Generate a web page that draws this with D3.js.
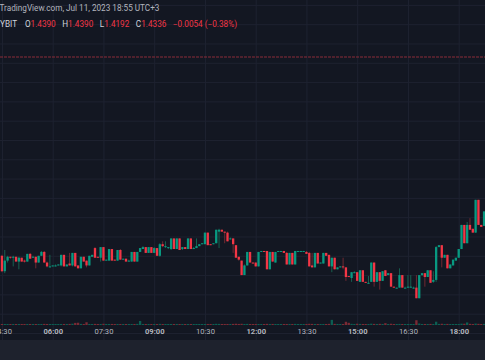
<!DOCTYPE html>
<html><head><meta charset="utf-8">
<script src="https://cdn.jsdelivr.net/npm/d3@7"></script>
<style>html,body{margin:0;padding:0;background:#131722;overflow:hidden}</style>
</head><body>
<svg id="c" width="485" height="360"></svg>
<script>
// ---------- DATA ----------
const opens = [
1.4000,1.3984,1.3995,1.3999,1.3998,1.3999,1.3994,1.3998,1.3995,1.3994,
1.4002,1.3998,1.3999,1.3993,1.4000,1.4004,1.3993,1.3988,1.3989,1.3990,
1.3990,1.3990,1.4001,1.3989,1.3992,1.3990,1.4003,1.3990,1.3987,1.3999,
1.3995,1.3990,1.3999,1.4008,1.3999,1.3998,1.4009,1.3995,1.3995,1.4007,
1.3996,1.3995,1.4006,1.3996,1.3997,1.3995,1.3994,1.4004,1.3994,1.4004,
1.4007,1.4009,1.4003,1.4009,1.4003,1.4008,1.4000,1.4012,1.4009,1.4008,
1.4007,1.4018,1.4007,1.4018,1.4007,1.4009,1.4007,1.4018,1.4007,1.4008,
1.4010,1.4012,1.4012,1.4024,1.4012,1.4012,1.4013,1.4025,1.4027,1.4025,
1.4024,1.4017,1.4018,1.4011,1.3999,1.3995,1.3980,1.3990,1.4004,1.3993,
1.3993,1.3989,1.4004,1.4005,1.4005,1.3986,1.4004,1.3993,1.4004,1.4005,
1.4005,1.4003,1.3991,1.4003,1.3991,1.4005,1.4004,1.4005,1.4004,1.4003,
1.3990,1.3988,1.4003,1.3992,1.3992,1.4003,1.4001,1.3989,1.3998,1.3986,
1.3988,1.3989,1.3988,1.3979,1.3977,1.3983,1.3983,1.3973,1.3985,1.3973,
1.3972,1.3973,1.3993,1.3973,1.3983,1.3974,1.3985,1.3980,1.3982,1.3968,
1.3967,1.3967,1.3980,1.3967,1.3967,1.3967,1.3967,1.3967,1.3956,1.3980,
1.3982,1.3978,1.3985,1.3973,1.3975,1.4009,1.4011,1.3998,1.4001,1.3987,
1.3990,1.3995,1.3998,1.4007,1.4032,1.4013,1.4032,1.4028,1.4024,1.4058,
1.4032,1.4031];
const closes = [
1.3984,1.3995,1.3999,1.3998,1.3999,1.3994,1.3998,1.3994,1.3994,1.4002,
1.3997,1.3999,1.3993,1.4000,1.4004,1.3993,1.3989,1.3989,1.3990,1.3990,
1.3991,1.4001,1.3989,1.3991,1.3990,1.4003,1.3989,1.3987,1.3999,1.3994,
1.3990,1.4000,1.4001,1.3998,1.3998,1.4009,1.3995,1.3996,1.4007,1.3995,
1.3995,1.4006,1.3996,1.3997,1.3994,1.3995,1.4004,1.3994,1.4004,1.4008,
1.4009,1.4003,1.4009,1.4003,1.4008,1.4000,1.4012,1.4010,1.4010,1.4009,
1.4018,1.4007,1.4018,1.4006,1.4009,1.4007,1.4018,1.4007,1.4008,1.4010,
1.4012,1.4013,1.4024,1.4011,1.4011,1.4013,1.4027,1.4027,1.4025,1.4024,
1.4015,1.4018,1.4012,1.3998,1.3996,1.3980,1.3990,1.4004,1.3993,1.3992,
1.3989,1.4004,1.4005,1.4004,1.3986,1.4004,1.3994,1.4004,1.4005,1.4005,
1.4003,1.3991,1.4003,1.3991,1.4005,1.4005,1.4005,1.4005,1.4002,1.3989,
1.3988,1.4003,1.3992,1.3993,1.4003,1.4000,1.3989,1.3998,1.3986,1.3988,
1.3989,1.3988,1.3978,1.3978,1.3983,1.3983,1.3974,1.3985,1.3973,1.3972,
1.3972,1.3993,1.3973,1.3983,1.3974,1.3984,1.3979,1.3982,1.3968,1.3967,
1.3967,1.3980,1.3967,1.3967,1.3968,1.3968,1.3967,1.3956,1.3980,1.3982,
1.3978,1.3985,1.3972,1.3975,1.4009,1.4011,1.3998,1.4001,1.3987,1.3991,
1.3996,1.3998,1.4007,1.4032,1.4013,1.4032,1.4027,1.4024,1.4058,1.4032,
1.4030,1.4046];
const highs = [
1.4001,1.4006,1.4000,1.3999,1.4000,1.3999,1.3999,1.3998,1.3996,1.4002,
1.4003,1.4000,1.3999,1.4000,1.4005,1.4005,1.3994,1.4001,1.3990,1.3991,
1.3991,1.4001,1.4001,1.3991,1.4003,1.4003,1.4003,1.3990,1.3999,1.3999,
1.3995,1.4000,1.4001,1.4009,1.3999,1.4009,1.4009,1.3996,1.4007,1.4007,
1.3996,1.4006,1.4007,1.3997,1.3997,1.3996,1.4004,1.4004,1.4004,1.4008,
1.4010,1.4009,1.4009,1.4009,1.4009,1.4008,1.4013,1.4015,1.4015,1.4009,
1.4018,1.4018,1.4018,1.4018,1.4009,1.4009,1.4018,1.4018,1.4009,1.4018,
1.4012,1.4013,1.4024,1.4024,1.4012,1.4013,1.4027,1.4028,1.4027,1.4025,
1.4025,1.4019,1.4018,1.4011,1.3999,1.3995,1.3991,1.4004,1.4004,1.3993,
1.3993,1.4004,1.4005,1.4005,1.4005,1.4004,1.4004,1.4004,1.4005,1.4005,
1.4005,1.4004,1.4003,1.4003,1.4005,1.4005,1.4005,1.4005,1.4005,1.4004,
1.4003,1.4003,1.4003,1.3993,1.4003,1.4003,1.4001,1.3998,1.3998,1.3988,
1.3989,1.3998,1.3988,1.3979,1.3983,1.3984,1.3983,1.3985,1.3985,1.3973,
1.3979,1.3993,1.3993,1.3983,1.3983,1.3984,1.3985,1.3982,1.3982,1.3968,
1.3967,1.3987,1.3980,1.3968,1.3980,1.3980,1.3968,1.3980,1.3980,1.3982,
1.3982,1.3985,1.3985,1.3984,1.4010,1.4011,1.4011,1.4001,1.4001,1.3991,
1.3996,1.3998,1.4007,1.4032,1.4032,1.4035,1.4039,1.4028,1.4058,1.4058,
1.4032,1.4046];
const lows = [
1.3983,1.3982,1.3993,1.3997,1.3989,1.3994,1.3986,1.3994,1.3993,1.3994,
1.3997,1.3998,1.3987,1.3993,1.4000,1.3993,1.3988,1.3988,1.3989,1.3989,
1.3990,1.3989,1.3989,1.3989,1.3990,1.3989,1.3989,1.3987,1.3987,1.3994,
1.3988,1.3990,1.3999,1.3998,1.3998,1.3994,1.3995,1.3995,1.3995,1.3995,
1.3995,1.3995,1.3996,1.3996,1.3994,1.3994,1.3994,1.3994,1.3994,1.4004,
1.4007,1.4003,1.4003,1.4003,1.4003,1.4000,1.3999,1.4009,1.4008,1.4007,
1.4006,1.4007,1.4007,1.4006,1.4006,1.4007,1.4007,1.4007,1.4007,1.4008,
1.4010,1.4012,1.4012,1.4011,1.4011,1.4012,1.4013,1.4008,1.4025,1.4013,
1.4015,1.4017,1.4003,1.3998,1.3995,1.3980,1.3980,1.3990,1.3993,1.3992,
1.3989,1.3989,1.4004,1.4004,1.3986,1.3986,1.3994,1.3993,1.4004,1.4004,
1.4003,1.3991,1.3991,1.3991,1.3991,1.4004,1.4004,1.4004,1.4002,1.3989,
1.3988,1.3988,1.3992,1.3992,1.3992,1.4000,1.3989,1.3983,1.3986,1.3986,
1.3988,1.3986,1.3974,1.3978,1.3973,1.3982,1.3974,1.3973,1.3973,1.3972,
1.3971,1.3973,1.3968,1.3973,1.3965,1.3974,1.3979,1.3980,1.3968,1.3967,
1.3966,1.3967,1.3967,1.3967,1.3967,1.3967,1.3966,1.3956,1.3956,1.3979,
1.3968,1.3978,1.3972,1.3972,1.3973,1.4009,1.3988,1.3998,1.3987,1.3987,
1.3990,1.3995,1.3998,1.4007,1.4013,1.4013,1.4027,1.4024,1.4024,1.4032,
1.4030,1.4031];
const volumes = [
22,25,18,20,24,21,26,19,23,20, 28,22,25,24,27,30,21,19,18,20,
24,26,28,22,30,35,58,62,30,26, 75,28,22,30,25,27,33,22,24,29,
21,26,24,20,22,19,27,25,30,110, 28,24,26,22,25,27,31,24,20,22,
26,24,28,23,21,22,27,25,20,24, 22,21,26,28,20,22,32,30,26,24,
28,21,30,34,29,33,27,30,26,22, 28,25,21,20,31,27,29,26,20,19,
22,27,24,28,30,20,19,21,24,33, 30,28,26,21,27,25,31,140,30,24,
20,26,88,60,32,22,34,30,28,24, 22,36,30,26,32,25,50,22,34,24,
20,30,28,22,26,24,21,130,40,24, 28,26,30,28,90,30,34,26,30,24,
26,22,28,36,34,70,32,24,38,32, 26,30];
const firstBar = [2023, 6, 11, 4, 30];   // 11 Jul 2023 04:30
const barMinutes = 5;
const timeTickLabels = ["04:30","06:00","07:30","09:00","10:30","12:00","13:30","15:00","16:30","18:00"];
const gridPrices = [1.4260,1.4240,1.4220,1.4200,1.4180,1.4160,1.4140,1.4120,1.4100,1.4080,1.4060,1.4040,1.4020,1.4000,1.3980,1.3960,1.3940,1.3920];
const priceLineValue = 1.4206;
const headerTitle = "TradingView.com, Jul 11, 2023 18:55 UTC+3";
const symbolName = "YBIT";
const ohlcKeys = ["O","H","L","C"];
const ohlcVals = ["1.4390","1.4390","1.4192","1.4336"];
const changeLabel = "\u22120.0054 (\u22120.38%)";

// ---------- CHART ----------
const W = 485, H = 360, plotBottom = 340;
const UP = "#089981", DOWN = "#f23645";
const svg = d3.select("#c");
svg.append("rect").attr("width", W).attr("height", H).attr("fill", "#131722");
svg.append("rect").attr("y", plotBottom).attr("width", W).attr("height", H - plotBottom).attr("fill", "#1e222d");

const t0 = new Date(...firstBar);
const times = opens.map((_, i) => d3.timeMinute.offset(t0, i * barMinutes));
const parseHM = s => { const [h, m] = s.split(":").map(Number); return new Date(2023, 6, 11, h, m); };
const tickDates = timeTickLabels.map(parseHM);

const x = d3.scaleTime().domain([t0, new Date(2023, 6, 11, 18, 0)]).range([1.95, 458.7]);
const y = d3.scaleLinear().domain([1.4006, 1.3906]).range([250, 346.5]);
const vol = d3.scaleLinear().domain([0, 150]).range([0, 5.5]);
const step = x(times[1]) - x(times[0]);
const bw = step * 0.82;

// grid
const gx = svg.append("g").attr("transform", `translate(0,${plotBottom})`)
  .call(d3.axisBottom(x).tickValues(tickDates).tickSize(-plotBottom).tickFormat(""));
gx.select(".domain").remove();
gx.selectAll("line").attr("stroke", "#1e2230").attr("stroke-width", 1);
const gy = svg.append("g")
  .call(d3.axisRight(y).tickValues(gridPrices).tickSize(W).tickFormat(""));
gy.select(".domain").remove();
gy.selectAll("line").attr("stroke", "#1e2230").attr("stroke-width", 1);

// price line
svg.append("line").attr("x1", 0).attr("x2", W)
  .attr("y1", y(priceLineValue)).attr("y2", y(priceLineValue))
  .attr("stroke", "#8a2c38").attr("stroke-width", 1).attr("stroke-dasharray", "3,1");

// volume
const volBase = 325;
svg.append("g").selectAll("rect").data(volumes).join("rect")
  .attr("x", (d, i) => x(times[i]) - bw / 2)
  .attr("width", bw)
  .attr("y", d => volBase - Math.max(1, vol(d)))
  .attr("height", d => Math.max(1, vol(d)))
  .attr("fill", (d, i) => closes[i] >= opens[i] ? "#0c5e52" : "#7a2a34");

// candles
const idx = d3.range(opens.length);
svg.append("g").selectAll("line").data(idx).join("line")
  .attr("x1", i => x(times[i])).attr("x2", i => x(times[i]))
  .attr("y1", i => y(highs[i])).attr("y2", i => y(lows[i]))
  .attr("stroke", i => closes[i] >= opens[i] ? "#17604f" : "#6e2a33")
  .attr("stroke-width", 1);
svg.append("g").selectAll("rect").data(idx).join("rect")
  .attr("x", i => x(times[i]) - bw / 2)
  .attr("width", bw)
  .attr("y", i => Math.min(y(opens[i]), y(closes[i])))
  .attr("height", i => Math.max(1, Math.abs(y(opens[i]) - y(closes[i]))))
  .attr("fill", i => closes[i] >= opens[i] ? UP : DOWN);

// time axis labels
const font = "Roboto, 'Liberation Sans', sans-serif";
const ax = svg.append("g").attr("transform", `translate(0,${plotBottom - 10.5})`)
  .call(d3.axisBottom(x).tickValues(tickDates).tickSize(0).tickPadding(0).tickFormat(d3.timeFormat("%H:%M")));
ax.select(".domain").remove();
ax.selectAll("text")
  .attr("dy", "0.6em")
  .attr("fill", "#b2b5be")
  .style("font-family", font)
  .style("font-size", "7.6px")
  .style("font-weight", d => d.getMinutes() === 0 ? "700" : "400");

// header
svg.append("text").attr("x", -0.5).attr("y", 11).attr("fill", "#b2b5be")
  .style("font-family", font).style("font-size", "8.2px").text(headerTitle);
const l2 = svg.append("text").attr("x", 0).attr("y", 27)
  .style("font-family", font).style("font-size", "8.2px");
l2.append("tspan").attr("fill", "#d1d4dc").text(symbolName);
ohlcKeys.forEach((k, i) => {
  l2.append("tspan").attr("fill", "#d1d4dc").attr("dx", i === 0 ? 8 : 6.5).text(k);
  l2.append("tspan").attr("fill", DOWN).text(ohlcVals[i]);
});
l2.append("tspan").attr("fill", DOWN).attr("dx", 6.5).text(changeLabel);
</script>
</body></html>
